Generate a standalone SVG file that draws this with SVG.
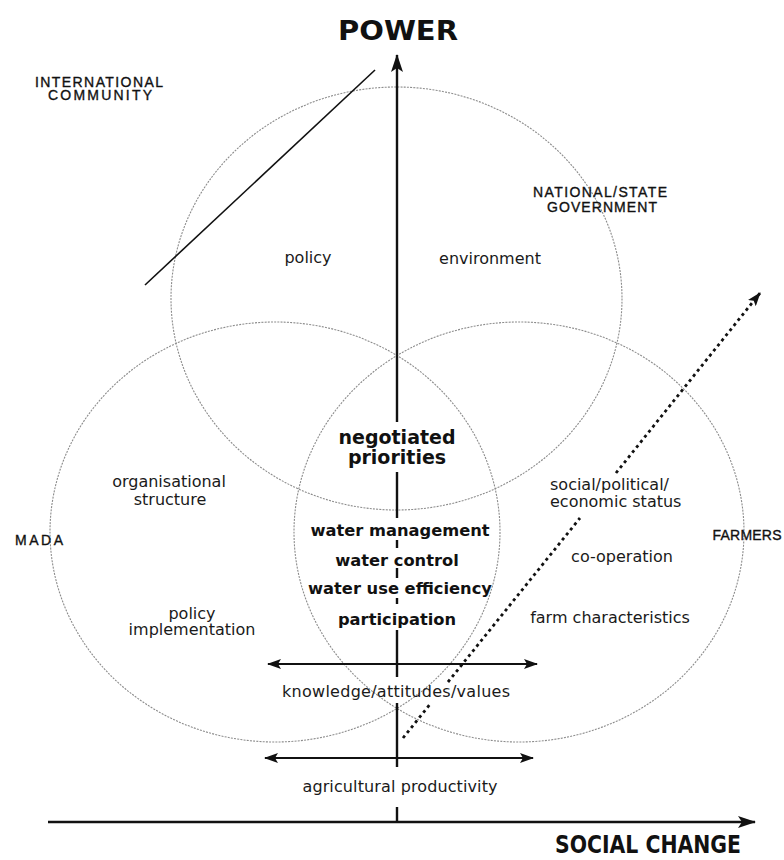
<svg xmlns="http://www.w3.org/2000/svg" width="784" height="860" viewBox="0 0 784 860">
  <style>
    .ring { fill: none; stroke: #8c8c8c; stroke-width: 1.1; stroke-dasharray: 2 1.2; }
    .axis { fill: none; stroke: #111; stroke-width: 2.4; }
    .dbl { fill: none; stroke: #111; stroke-width: 2.2; }
    .dots { fill: none; stroke: #111; stroke-width: 2.8; stroke-dasharray: 3 3.5; }
    .actor { font-family: "Liberation Sans", Arial, sans-serif; font-size: 14px; fill: #111; stroke: #111; stroke-width: 0.35; text-anchor: middle; }
    .lbl { font-family: "DejaVu Sans", Verdana, sans-serif; font-size: 16px; fill: #1a1a1a; text-anchor: middle; }
    .key { font-family: "DejaVu Sans", Verdana, sans-serif; font-size: 16.3px; font-weight: bold; fill: #111; text-anchor: middle; }
    .head { font-family: "DejaVu Sans", Verdana, sans-serif; font-size: 19px; font-weight: bold; fill: #111; text-anchor: middle; }
    .title { font-family: "DejaVu Sans", Verdana, sans-serif; font-size: 26px; font-weight: bold; fill: #111; text-anchor: middle; }
  </style>
  <defs>
    <marker id="tip" markerUnits="userSpaceOnUse" viewBox="0 0 18 12" markerWidth="18" markerHeight="12" refX="17" refY="6" orient="auto-start-reverse">
      <path d="M0,0 L18,6 L0,12 L4,6 z" fill="#111"/>
    </marker>
    <marker id="tipSmall" markerUnits="userSpaceOnUse" viewBox="0 0 14 10" markerWidth="14" markerHeight="10" refX="13" refY="5" orient="auto-start-reverse">
      <path d="M0,0 L14,5 L0,10 L3,5 z" fill="#111"/>
    </marker>
  </defs>

  <!-- actor domains -->
  <g id="government">
    <ellipse class="ring" cx="396.5" cy="298.5" rx="225.5" ry="211.5"/>
    <text class="actor" x="600" y="197" textLength="134">NATIONAL/STATE</text>
    <text class="actor" x="602" y="212" textLength="110">GOVERNMENT</text>
    <text class="lbl" x="308" y="263">policy</text>
    <text class="lbl" x="490" y="264">environment</text>
  </g>
  <g id="mada">
    <ellipse class="ring" cx="275" cy="532" rx="225" ry="210"/>
    <text class="actor" x="39" y="545" textLength="48">MADA</text>
    <text class="lbl" x="169" y="487">organisational</text>
    <text class="lbl" x="170" y="505">structure</text>
    <text class="lbl" x="192" y="619">policy</text>
    <text class="lbl" x="192" y="635">implementation</text>
  </g>
  <g id="farmers">
    <ellipse class="ring" cx="519" cy="532" rx="225" ry="210"/>
    <text class="actor" x="747" y="540" textLength="69">FARMERS</text>
    <text class="lbl" x="550" y="490" style="text-anchor:start">social/political/</text>
    <text class="lbl" x="550" y="507" style="text-anchor:start">economic status</text>
    <text class="lbl" x="622" y="562">co-operation</text>
    <text class="lbl" x="610" y="623">farm characteristics</text>
  </g>
  <g id="international">
    <text class="actor" x="99" y="87" textLength="128">INTERNATIONAL</text>
    <text class="actor" x="100" y="100" textLength="104">COMMUNITY</text>
  </g>
  <g id="core">
    <text class="head" x="397" y="444">negotiated</text>
    <text class="head" x="397" y="464">priorities</text>
    <text class="key" x="400" y="536">water management</text>
    <text class="key" x="397" y="566">water control</text>
    <text class="key" x="400" y="594">water use efficiency</text>
    <text class="key" x="397" y="625">participation</text>
  </g>
  <g id="shared">
    <text class="lbl" x="396" y="697" textLength="228">knowledge/attitudes/values</text>
    <text class="lbl" x="400" y="792" textLength="195">agricultural productivity</text>
  </g>
  <g id="axes-labels">
    <text class="title" x="398" y="40" textLength="120" lengthAdjust="spacingAndGlyphs">POWER</text>
    <text class="title" x="648" y="853" style="font-size:24px" textLength="186" lengthAdjust="spacingAndGlyphs">SOCIAL CHANGE</text>
  </g>

  <!-- connectors -->
  <g id="connectors">
    <!-- social change axis -->
    <line class="axis" x1="48" y1="822" x2="755" y2="822" marker-end="url(#tip)"/>
    <!-- power axis, broken around the labels it passes -->
    <path class="axis" d="M397,822 V807 M397,767 V703 M397,677 V630 M397,604 V598 M397,578 V568 M397,548 V540 M397,518 V472"/>
    <line class="axis" x1="397" y1="422" x2="397" y2="55" marker-end="url(#tip)"/>
    <!-- two-way ranges -->
    <line class="dbl" x1="268" y1="664" x2="537" y2="664" marker-start="url(#tipSmall)" marker-end="url(#tipSmall)"/>
    <line class="dbl" x1="265" y1="758" x2="533" y2="758" marker-start="url(#tipSmall)" marker-end="url(#tipSmall)"/>
    <!-- international influence -->
    <line x1="145" y1="285" x2="375" y2="70" stroke="#111" stroke-width="1.6"/>
    <!-- dotted trajectory -->
    <path class="dots" d="M403,738 L431,703 M448,682 L580,518"/>
    <line class="dots" x1="616" y1="473" x2="760" y2="293" marker-end="url(#tipSmall)"/>
  </g>
</svg>
